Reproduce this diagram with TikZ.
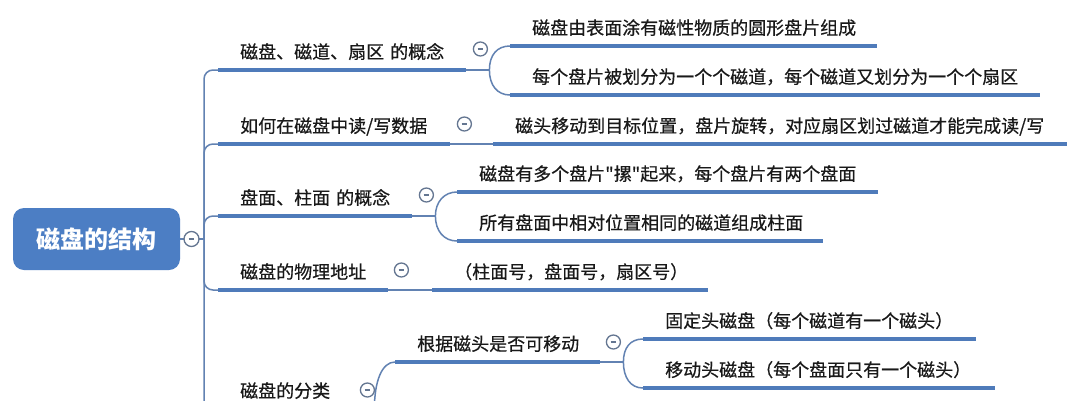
\documentclass[tikz,border=0pt]{standalone}
\usepackage{fontspec}
\setmainfont{Noto Sans CJK SC}
\newfontfamily\medfont{Noto Sans CJK SC}[FakeBold=0.5]
\usetikzlibrary{calc}
\definecolor{barc}{RGB}{79,123,186}
\definecolor{linec}{RGB}{98,130,178}
\definecolor{rootc}{RGB}{76,126,196}
\definecolor{togc}{RGB}{100,118,145}
\definecolor{txtc}{RGB}{25,25,25}
\tikzset{
  topic/.style={anchor=south west, inner xsep=22pt, inner ysep=0pt, text height=13pt, text depth=11.3pt,
    align=left, font=\medfont\fontsize{18pt}{20pt}\selectfont, text=txtc},
  bar/.style={draw=barc, line width=4.2pt},
  conn/.style={draw=linec, line width=1.5pt},
  tog/.style={circle, draw=togc, line width=1.3pt, fill=white, minimum size=14pt, inner sep=0pt,
    path picture={\draw[togc, line width=1.1pt] ([xshift=-2.9pt]path picture bounding box.center) -- ([xshift=2.9pt]path picture bounding box.center);}},
  rootbox/.style={rectangle, rounded corners=11pt, fill=rootc, minimum width=167pt, minimum height=62pt,
    text=white, font=\bfseries\fontsize{24pt}{26pt}\selectfont}
}
\begin{document}
\begin{tikzpicture}[x=1pt,y=-1pt]
\useasboundingbox (0,0) rectangle (1082,400);
\fill[white] (0,0) rectangle (1082,400);

% root
\node[rootbox] (root) at (96.5,239) {磁盘的结构};
\coordinate (trunk) at (204,239);

% level 1 topics
\node[topic, text width=204pt] (b1) at (218,70) {磁盘、磁道、扇区 的概念};
\node[topic, text width=188pt] (b2) at (218,144) {如何在磁盘中读/写数据};
\node[topic, text width=150pt] (b3) at (218,216) {盘面、柱面 的概念};
\node[topic, text width=126pt] (b4) at (218,290) {磁盘的物理地址};
\node[topic, text width=91pt] (b5) at (218,409) {磁盘的分类};

% level 2 topics
\node[topic, text width=323pt] (c11) at (510,46) {磁盘由表面涂有磁性物质的圆形盘片组成};
\node[topic, text width=486pt] (c12) at (510,95) {每个盘片被划分为一个个磁道，每个磁道又划分为一个个扇区};
\node[topic, text width=530pt] (c21) at (493,144) {磁头移动到目标位置，盘片旋转，对应扇区划过磁道才能完成读/写};
\node[topic, text width=377pt] (c31) at (457,192) {磁盘有多个盘片\char34 摞\char34 起来，每个盘片有两个盘面};
\node[topic, text width=322pt] (c32) at (457,241) {所有盘面中相对位置相同的磁道组成柱面};
\node[topic, text width=232pt] (c41) at (432,290) {（柱面号，盘面号，扇区号）};
\node[topic, text width=161pt] (c51) at (395,362) {根据磁头是否可移动};
\node[topic, text width=289pt] (c511) at (643,339) {固定头磁盘（每个磁道有一个磁头）};
\node[topic, text width=308pt] (c512) at (643,388) {移动头磁盘（每个盘面只有一个磁头）};

% split points
\coordinate (s1) at ($(b1.south east)+(23,0)$);
\coordinate (s3) at ($(b3.south east)+(23,0)$);
\coordinate (s5) at ($(b5.south east)+(21,0)$);
\coordinate (s51) at ($(c51.south east)+(23,0)$);

% trunk connectors
\draw[conn] (root.east) -- (trunk);
\foreach \b in {b1,b2,b3,b4,b5}{
  \draw[conn, rounded corners=9pt] (trunk) |- (\b.south west);
}

% child connectors
\draw[conn] (b1.south east) -- (s1);
\draw[conn] (s1) .. controls +(0,-15) and +(-13,0) .. (c11.south west);
\draw[conn] (s1) .. controls +(0,15) and +(-13,0) .. (c12.south west);
\draw[conn] (b2.south east) -- (c21.south west);
\draw[conn] (b3.south east) -- (s3);
\draw[conn] (s3) .. controls +(0,-14) and +(-13,0) .. (c31.south west);
\draw[conn] (s3) .. controls +(0,15) and +(-13,0) .. (c32.south west);
\draw[conn] (b4.south east) -- (c41.south west);
\draw[conn] (b5.south east) -- (s5);
\draw[conn] (s5) .. controls +(0,-28) and +(-13,0) .. (c51.south west);
\draw[conn] (c51.south east) -- (s51);
\draw[conn] (s51) .. controls +(0,-14) and +(-13,0) .. (c511.south west);
\draw[conn] (s51) .. controls +(0,15) and +(-13,0) .. (c512.south west);

% bars
\foreach \n in {b1,b2,b3,b4,b5,c11,c12,c21,c31,c32,c41,c51,c511,c512}{
  \draw[bar] (\n.south west) -- (\n.south east);
}

% toggles
\node[tog, minimum size=15pt] (t0) at (191.5,239) {};
\node[tog] (t1) at ($(b1.south east)+(14,-21)$) {};
\node[tog] (t2) at ($(b2.south east)+(14,-20)$) {};
\node[tog] (t3) at ($(b3.south east)+(14,-21)$) {};
\node[tog] (t4) at ($(b4.south east)+(13,-20)$) {};
\node[tog] (t5) at ($(b5.south east)+(14,-19)$) {};
\node[tog] (t51) at ($(c51.south east)+(13,-20)$) {};
\end{tikzpicture}
\end{document}
